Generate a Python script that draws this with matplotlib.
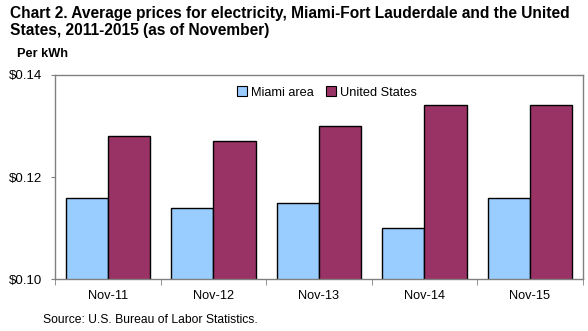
import matplotlib.pyplot as plt
import numpy as np
from matplotlib.patches import Rectangle

# ---- data ----
periods = ["Nov-11", "Nov-12", "Nov-13", "Nov-14", "Nov-15"]
miami = [0.116, 0.114, 0.115, 0.110, 0.116]
us = [0.128, 0.127, 0.130, 0.134, 0.134]
yticks = [0.10, 0.12, 0.14]

plt.rcParams.update({
    "font.family": ["Liberation Sans", "DejaVu Sans"],
    "font.size": 9,
})

miami_color = "#99CCFF"
us_color = "#993366"
spine_color = "#808080"

fig = plt.figure(figsize=(5.88, 3.31), dpi=100, facecolor="white")
ax = fig.add_axes([0.0935, 0.156, 0.8975, 0.618])

x = np.arange(len(periods))
w = 0.4
ax.bar(x - w / 2, miami, width=w, color=miami_color, edgecolor="black",
       linewidth=1.0, zorder=2)
ax.bar(x + w / 2, us, width=w, color=us_color, edgecolor="black",
       linewidth=1.0, zorder=2)

ax.set_xlim(-0.5, len(periods) - 0.5)
ax.set_ylim(0.10, 0.14)
ax.set_yticks(yticks)
ax.set_yticklabels([f"${v:.2f}" for v in yticks], fontsize=9.5)
ax.set_xticks(x)
ax.set_xticklabels(periods, fontsize=9.2)
ax.tick_params(axis="x", length=0, pad=8)
ax.set_xticks(np.arange(-0.5, len(periods)), minor=True)
ax.tick_params(axis="x", which="minor", length=4, color=spine_color,
               direction="out")
ax.tick_params(axis="y", length=3, color=spine_color, direction="out", pad=6)

for s in ax.spines.values():
    s.set_color(spine_color)
    s.set_linewidth(1.0)

# legend
handles = [
    Rectangle((0, 0), 1, 1, facecolor=miami_color, edgecolor="black", linewidth=0.8),
    Rectangle((0, 0), 1, 1, facecolor=us_color, edgecolor="black", linewidth=0.8),
]
ax.legend(handles, ["Miami area", "United States"], loc="upper center",
          bbox_to_anchor=(0.515, 1.0), ncol=2, frameon=False, fontsize=9.2,
          handlelength=0.8, handleheight=0.8, handletextpad=0.3,
          columnspacing=1.0)

# titles and notes
fig.text(0.017, 0.982,
         "Chart 2. Average prices for electricity, Miami-Fort Lauderdale and the United\n"
         "States, 2011-2015 (as of November)",
         ha="left", va="top", fontsize=11.2, fontweight="bold", linespacing=1.2)
fig.text(0.029, 0.837, "Per kWh", ha="left", va="center", fontsize=9.2,
         fontweight="bold")
fig.text(0.073, 0.033, "Source: U.S. Bureau of Labor Statistics.", ha="left",
         va="center", fontsize=8.7)

fig.savefig("out.png", dpi=100)
